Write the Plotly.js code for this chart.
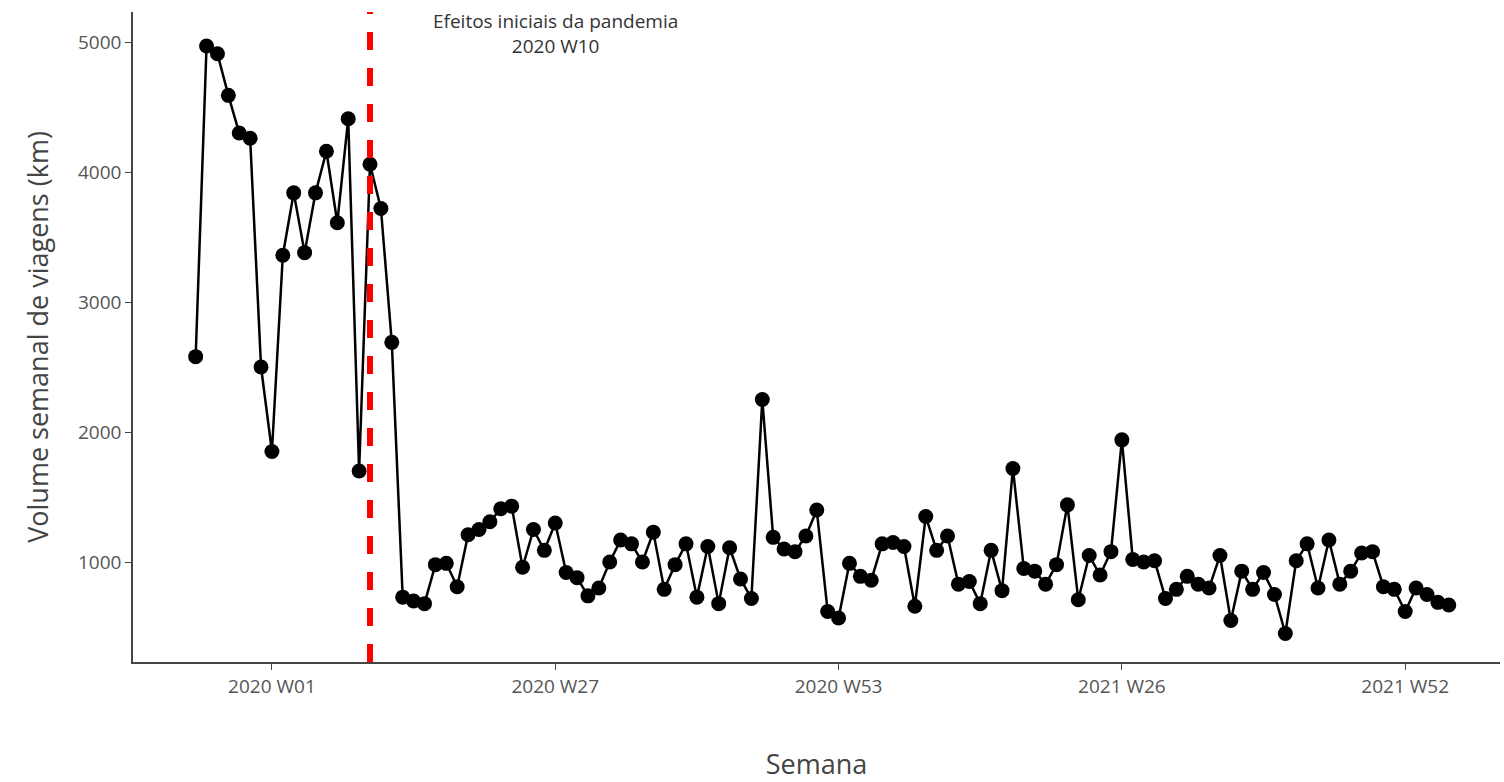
<!DOCTYPE html>
<html>
<head>
<meta charset="utf-8">
<script src="https://cdn.plot.ly/plotly-3.0.1.min.js"></script>
<style>html,body{margin:0;padding:0;background:#fff}#chart{width:1504px;height:782px}</style>
</head>
<body>
<div id="chart"></div>
<script>
// Semanas: índice 0 = 2020 W01
const weeks = [];
for (let w = -7; w <= 108; w++) weeks.push(w);

const volume = [
  2580, 4970, 4910, 4590, 4300, 4260, 2500, 1850, 3360, 3840,
  3380, 3840, 4160, 3610, 4410, 1700, 4060, 3720, 2690, 730,
  700, 680, 980, 990, 810, 1210, 1250, 1310, 1410, 1430,
  960, 1250, 1090, 1300, 920, 880, 740, 800, 1000, 1170,
  1140, 1000, 1230, 790, 980, 1140, 730, 1120, 680, 1110,
  870, 720, 2250, 1190, 1100, 1080, 1200, 1400, 620, 570,
  990, 890, 860, 1140, 1150, 1120, 660, 1350, 1090, 1200,
  830, 850, 680, 1090, 780, 1720, 950, 930, 830, 980,
  1440, 710, 1050, 900, 1080, 1940, 1020, 1000, 1010, 720,
  790, 890, 830, 800, 1050, 550, 930, 790, 920, 750,
  450, 1010, 1140, 800, 1170, 830, 930, 1070, 1080, 810,
  790, 620, 800, 750, 690, 670
];

const tickVals = [0, 26, 52, 78, 104];
const tickText = ['2020 W01', '2020 W27', '2020 W53', '2021 W26', '2021 W52'];
const pandemicWeek = 9;

const data = [{
  type: 'scatter', mode: 'lines+markers',
  x: weeks, y: volume,
  line: { color: '#000', width: 2.5 },
  marker: { color: '#000', size: 15 },
  hoverinfo: 'skip', showlegend: false
}];

const layout = {
  width: 1504, height: 782,
  margin: { l: 133, r: 4, t: 12, b: 120 },
  paper_bgcolor: '#fff', plot_bgcolor: '#fff',
  font: { family: 'Open Sans, sans-serif', color: '#444' },
  xaxis: {
    range: [-12.75, 112.7], showgrid: false, zeroline: false,
    showline: true, linecolor: '#444', linewidth: 1.5,
    ticks: 'outside', ticklen: 6, tickcolor: '#444',
    tickvals: tickVals, ticktext: tickText,
    tickfont: { size: 19, color: '#555' },
    title: { text: 'Semana', font: { size: 27, color: '#444' }, standoff: 60 }
  },
  yaxis: {
    range: [231, 5231], showgrid: false, zeroline: false,
    showline: true, linecolor: '#444', linewidth: 1.5,
    ticks: 'outside', ticklen: 6, tickcolor: '#444',
    tickvals: [1000, 2000, 3000, 4000, 5000],
    tickfont: { size: 19, color: '#555' },
    title: { text: 'Volume semanal de viagens (km)', font: { size: 27, color: '#444' }, standoff: 22 }
  },
  shapes: [{
    type: 'line', xref: 'x', yref: 'paper',
    x0: pandemicWeek, x1: pandemicWeek, y0: 0, y1: 1,
    line: { color: '#ff0000', width: 6, dash: 'dash' }
  }],
  annotations: [{
    xref: 'x', yref: 'paper', x: pandemicWeek + 17, y: 1.01,
    yanchor: 'top', showarrow: false, align: 'center',
    text: 'Efeitos iniciais da pandemia<br>2020 W10',
    font: { size: 19, color: '#333' }
  }]
};

Plotly.newPlot('chart', data, layout, { displayModeBar: false });
</script>
</body>
</html>
